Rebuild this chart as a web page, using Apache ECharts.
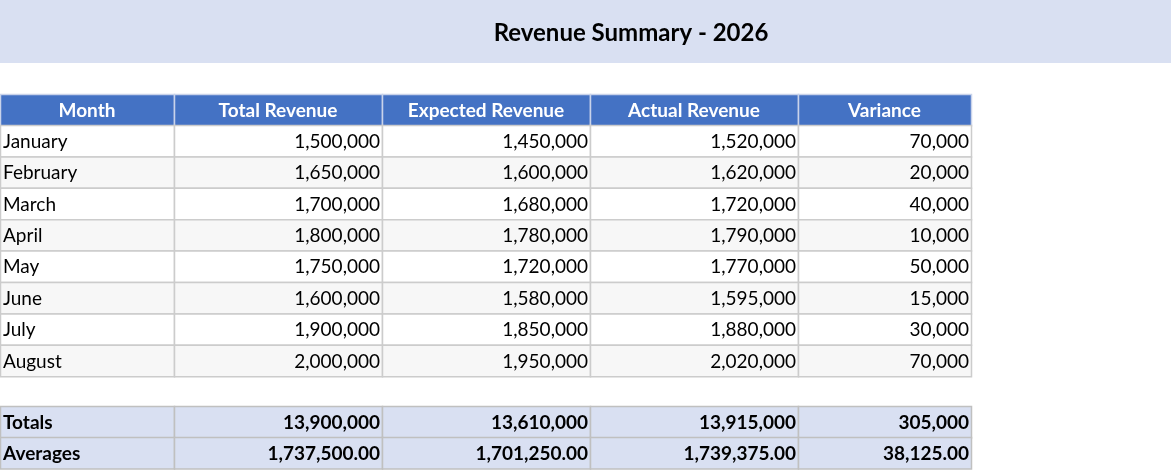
<!DOCTYPE html>
<html>
<head>
<meta charset="utf-8">
<script src="https://cdn.jsdelivr.net/npm/echarts@6/dist/echarts.min.js"></script>
<style>html,body{margin:0;padding:0;background:#fff}#chart{width:1171px;height:471px}</style>
</head>
<body>
<div id="chart"></div>
<script>
var headers = ['Month', 'Total Revenue', 'Expected Revenue', 'Actual Revenue', 'Variance'];
var months = ['January', 'February', 'March', 'April', 'May', 'June', 'July', 'August'];
var totalRevenue = ['1,500,000', '1,650,000', '1,700,000', '1,800,000', '1,750,000', '1,600,000', '1,900,000', '2,000,000'];
var expectedRevenue = ['1,450,000', '1,600,000', '1,680,000', '1,780,000', '1,720,000', '1,580,000', '1,850,000', '1,950,000'];
var actualRevenue = ['1,520,000', '1,620,000', '1,720,000', '1,790,000', '1,770,000', '1,595,000', '1,880,000', '2,020,000'];
var variance = ['70,000', '20,000', '40,000', '10,000', '50,000', '15,000', '30,000', '70,000'];
var totals = ['Totals', '13,900,000', '13,610,000', '13,915,000', '305,000'];
var averages = ['Averages', '1,737,500.00', '1,701,250.00', '1,739,375.00', '38,125.00'];

var colX = [0, 174, 382, 590, 798, 971];
var rowH = 31.4;
var font = 'Lato, "Open Sans", sans-serif';
var els = [];

els.push({ type: 'rect', shape: { x: 0, y: 0, width: 1171, height: 63 }, style: { fill: '#d9e0f2' } });
els.push({ type: 'text', x: 631, y: 33, style: { text: 'Revenue Summary - 2026', font: 'bold 24px ' + font, fill: '#000', align: 'center', verticalAlign: 'middle' } });

function row(cells, y, opts) {
    for (var c = 0; c < cells.length; c++) {
        var x0 = colX[c], w = colX[c + 1] - colX[c];
        els.push({ type: 'rect', shape: { x: x0 + 0.5, y: y + 0.5, width: w, height: rowH }, style: { fill: opts.fill, stroke: opts.stroke, lineWidth: 1.5 } });
        var align = opts.center ? 'center' : (c === 0 ? 'left' : 'right');
        var tx = opts.center ? x0 + w / 2 : (c === 0 ? x0 + 3 : x0 + w - 2);
        els.push({ type: 'text', x: tx, y: y + rowH / 2 + 1, style: { text: cells[c], font: (opts.bold ? 'bold ' : '') + '19px ' + font, fill: opts.color, align: align, verticalAlign: 'middle' } });
    }
}

row(headers, 94, { fill: '#4472c4', stroke: '#c9d3ea', color: '#fff', bold: true, center: true });
for (var i = 0; i < months.length; i++) {
    row([months[i], totalRevenue[i], expectedRevenue[i], actualRevenue[i], variance[i]], 125 + i * rowH,
        { fill: i % 2 ? '#f7f7f7' : '#ffffff', stroke: '#cccccc', color: '#000' });
}
row(totals, 406, { fill: '#d9e0f2', stroke: '#c0c0c0', color: '#000', bold: true });
row(averages, 437, { fill: '#d9e0f2', stroke: '#c0c0c0', color: '#000', bold: true });

var chart = echarts.init(document.getElementById('chart'));
chart.setOption({ animation: false, graphic: { elements: els } });
</script>
</body>
</html>
